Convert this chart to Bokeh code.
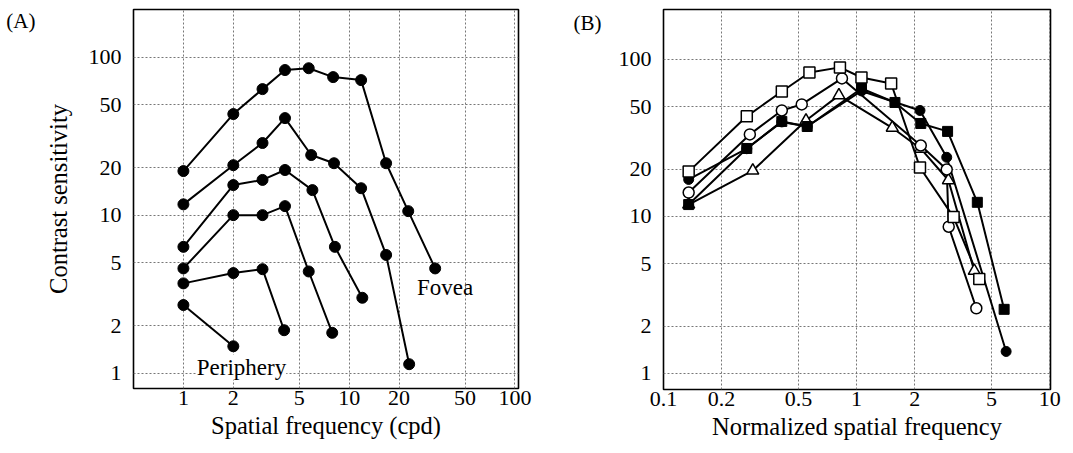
from bokeh.plotting import figure
from bokeh.layouts import row
from bokeh.models import FixedTicker, Label, CustomJSTickFormatter, LogAxis
from bokeh.embed import file_html
from bokeh.resources import INLINE

FONT = "Liberation Serif"

# ---- Panel A: contrast sensitivity at several eccentricities ----
a_ticks_x = [1, 2, 5, 10, 20, 50, 100]
a_ticks_y = [1, 2, 5, 10, 20, 50, 100]

a_fovea_x = [1, 2, 3, 4.1, 5.7, 8.0, 11.8, 16.7, 22.7, 33]
a_fovea_y = [19, 43.6, 62.7, 82.8, 85, 74.7, 71.5, 21.3, 10.6, 4.6]

a_ecc1_x = [1, 2, 3, 4.1, 5.9, 8.1, 11.8, 16.7, 23]
a_ecc1_y = [11.7, 20.7, 28.6, 41.1, 24, 21.3, 14.8, 5.6, 1.14]

a_ecc2_x = [1, 2, 3, 4.1, 6.0, 8.2, 12]
a_ecc2_y = [6.3, 15.5, 16.7, 19.3, 14.4, 6.3, 3.0]

a_ecc3_x = [1, 2, 3, 4.1, 5.7, 7.9]
a_ecc3_y = [4.6, 10, 10, 11.4, 4.4, 1.8]

a_ecc4_x = [1, 2, 3, 4.05]
a_ecc4_y = [3.7, 4.3, 4.55, 1.87]

a_periph_x = [1, 2]
a_periph_y = [2.7, 1.48]

# ---- Panel B: curves plotted against normalized frequency ----
b_ticks_x = [0.1, 0.2, 0.5, 1, 2, 5, 10]
b_ticks_y = [1, 2, 5, 10, 20, 50, 100]

b_osq_x = [0.135, 0.27, 0.41, 0.57, 0.82, 1.06, 1.51, 2.13, 3.18, 4.32]
b_osq_y = [19.3, 43.4, 62.5, 82.6, 89, 76.7, 70.3, 20.5, 9.9, 4.0]

b_ocirc_x = [0.135, 0.28, 0.41, 0.52, 0.84, 2.15, 2.93, 3.0, 4.17]
b_ocirc_y = [14.2, 33.3, 47.3, 51.7, 75.7, 28.3, 19.9, 8.6, 2.6]

b_fsq_x = [0.135, 0.27, 0.41, 0.555, 1.06, 1.58, 2.15, 2.96, 4.22, 5.81]
b_fsq_y = [11.9, 27.1, 40.3, 37.4, 65.3, 53.2, 39.1, 34.8, 12.3, 2.56]

b_fcirc_x = [0.135, 0.27, 0.41, 0.555, 1.06, 2.13, 2.93, 5.95]
b_fcirc_y = [17.2, 27, 40, 37.4, 63, 47.3, 23.8, 1.38]

b_tri_x = [0.135, 0.29, 0.547, 0.81, 1.53, 2.15, 2.99, 4.07]
b_tri_y = [11.9, 19.6, 40.8, 59, 36.7, 27, 17, 4.5]


def style(p, xticks, yticks):
    p.xaxis.ticker = FixedTicker(ticks=xticks)
    p.yaxis.ticker = FixedTicker(ticks=yticks)
    fmt = "return String(tick);"
    p.xaxis.formatter = CustomJSTickFormatter(code=fmt)
    p.yaxis.formatter = CustomJSTickFormatter(code=fmt)
    for ax in (p.xaxis, p.yaxis):
        ax.axis_line_color = None
        ax.major_tick_line_color = None
        ax.minor_tick_line_color = None
        ax.major_label_text_font = FONT
        ax.major_label_text_font_size = "22px"
        ax.major_label_text_color = "black"
        ax.axis_label_text_font = FONT
        ax.axis_label_text_font_size = "24.5px"
        ax.axis_label_text_font_style = "normal"
        ax.axis_label_text_color = "black"
    p.xaxis.major_label_standoff = -4
    p.yaxis.major_label_standoff = 6
    p.xaxis.axis_label_standoff = 4
    p.yaxis.axis_label_standoff = 14
    for g in (p.xgrid, p.ygrid):
        g.grid_line_color = "#777777"
        g.grid_line_dash = "2 2"
        g.grid_line_width = 1
    p.outline_line_color = "black"
    p.outline_line_width = 1.6
    p.background_fill_color = "white"
    p.border_fill_color = "white"


def panel_tag(p, text, at, standoff):
    # a bare outer axis carrying only the panel letter as its one tick label
    ax = LogAxis(ticker=FixedTicker(ticks=[at]),
                 formatter=CustomJSTickFormatter(code='return "%s";' % text),
                 axis_line_color=None, major_tick_line_color=None,
                 minor_tick_line_color=None, major_label_standoff=standoff,
                 major_label_text_font=FONT, major_label_text_font_size="21px",
                 major_label_text_color="black")
    p.add_layout(ax, "left")


pA = figure(x_axis_type="log", y_axis_type="log",
            x_range=(0.5, 105), y_range=(0.8, 200),
            frame_width=385, frame_height=379,
            min_border_left=133, min_border_right=22,
            min_border_top=7, min_border_bottom=60,
            output_backend="svg", toolbar_location=None)
style(pA, a_ticks_x, a_ticks_y)
pA.xaxis.axis_label = "Spatial frequency (cpd)"
pA.yaxis.axis_label = "Contrast sensitivity"
panel_tag(pA, "(A)", 170, 0)

for xs, ys in [(a_fovea_x, a_fovea_y), (a_ecc1_x, a_ecc1_y), (a_ecc2_x, a_ecc2_y),
               (a_ecc3_x, a_ecc3_y), (a_ecc4_x, a_ecc4_y), (a_periph_x, a_periph_y)]:
    pA.line(xs, ys, line_color="black", line_width=2)
    pA.scatter(xs, ys, marker="circle", size=11, fill_color="black", line_color="black")

pA.add_layout(Label(x=2.24, y=1.09, text="Periphery", text_font=FONT, text_font_size="23px",
                    text_color="black", text_align="center", text_baseline="middle",
                    background_fill_color="white"))
pA.add_layout(Label(x=37.9, y=3.5, text="Fovea", text_font=FONT, text_font_size="23px",
                    text_color="black", text_align="center", text_baseline="middle"))

pB = figure(x_axis_type="log", y_axis_type="log",
            x_range=(0.1, 10.1), y_range=(0.79, 208),
            frame_width=387, frame_height=380,
            min_border_left=123, min_border_right=23,
            min_border_top=9, min_border_bottom=60,
            output_backend="svg", toolbar_location=None)
style(pB, b_ticks_x, b_ticks_y)
pB.xaxis.axis_label = "Normalized spatial frequency"
panel_tag(pB, "(B)", 171, 8)

for xs, ys in [(b_tri_x, b_tri_y), (b_fcirc_x, b_fcirc_y), (b_fsq_x, b_fsq_y),
               (b_ocirc_x, b_ocirc_y), (b_osq_x, b_osq_y)]:
    pB.line(xs, ys, line_color="black", line_width=2)

pB.scatter(b_tri_x, b_tri_y, marker="triangle", size=12, fill_color="white",
           line_color="black", line_width=1.5)
pB.scatter(b_fcirc_x, b_fcirc_y, marker="circle", size=10, fill_color="black",
           line_color="black")
pB.scatter(b_fsq_x, b_fsq_y, marker="square", size=10, fill_color="black",
           line_color="black")
pB.scatter(b_ocirc_x, b_ocirc_y, marker="circle", size=11, fill_color="white",
           line_color="black", line_width=1.5)
pB.scatter(b_osq_x, b_osq_y, marker="square", size=11, fill_color="white",
           line_color="black", line_width=1.5)

layout = row(pA, pB)
open("out.html", "w").write(file_html(layout, INLINE))
